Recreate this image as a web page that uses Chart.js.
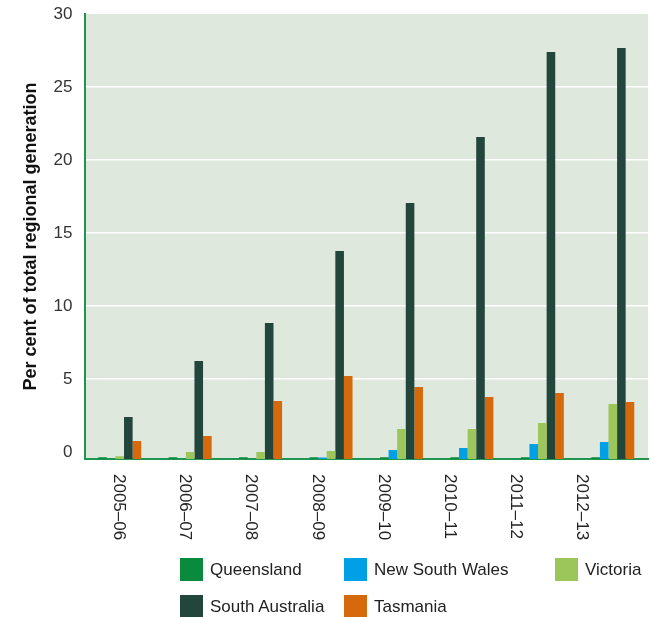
<!DOCTYPE html>
<html>
<head>
<meta charset="utf-8">
<script src="https://cdn.jsdelivr.net/npm/chart.js@4"></script>
<style>
  html, body { margin: 0; padding: 0; background: #fff; }
  #wrap { position: relative; width: 651px; height: 617px; }
  #chart { position: absolute; left: 0; top: 0; }
  .legend { position: absolute; font-family: "Liberation Sans", Arial, sans-serif; font-size: 17px; color: #222; }
  .legend span.sw { position: absolute; width: 23px; height: 23px; }
  .legend span.tx { position: absolute; white-space: nowrap; line-height: 23px; }
</style>
</head>
<body>
<div id="wrap">
  <canvas id="chart" width="651" height="617"></canvas>
  <div id="legend" class="legend"></div>
</div>
<script>
const years = ['2005–06', '2006–07', '2007–08', '2008–09', '2009–10', '2010–11', '2011–12', '2012–13'];

const queensland = [0.12, 0.12, 0.12, 0.12, 0.12, 0.12, 0.12, 0.12];
const newSouthWales = [0, 0, 0, 0.1, 0.62, 0.75, 1.03, 1.16];
const victoria = [0.18, 0.48, 0.48, 0.55, 2.05, 2.05, 2.47, 3.77];
const southAustralia = [2.88, 6.71, 9.32, 14.25, 17.53, 22.05, 27.88, 28.15];
const tasmania = [1.23, 1.58, 3.97, 5.68, 4.93, 4.25, 4.52, 3.9];

const yTicks = [0, 5, 10, 15, 20, 25, 30];

const series = [
  { label: 'Queensland', data: queensland, color: '#0a8a3c' },
  { label: 'New South Wales', data: newSouthWales, color: '#00a0e6' },
  { label: 'Victoria', data: victoria, color: '#9dc65a' },
  { label: 'South Australia', data: southAustralia, color: '#22453c' },
  { label: 'Tasmania', data: tasmania, color: '#d5690c' }
];

const FONT = '"Liberation Sans", Arial, sans-serif';

// plot background
const plotBg = {
  id: 'plotBg',
  beforeDraw(chart) {
    const { ctx, chartArea: a } = chart;
    ctx.save();
    ctx.fillStyle = '#dee8dd';
    ctx.fillRect(a.left, a.top, a.right - a.left, a.bottom - a.top);
    ctx.restore();
  }
};

// x labels rotated clockwise, read top to bottom
const xLabels = {
  id: 'xLabels',
  afterDraw(chart) {
    const { ctx, chartArea: a } = chart;
    const scale = chart.scales.x;
    ctx.save();
    ctx.font = '17px ' + FONT;
    ctx.fillStyle = '#222';
    ctx.textAlign = 'left';
    ctx.textBaseline = 'middle';
    years.forEach((y, i) => {
      const px = a.left + (scale.getPixelForTick(i) - a.left) * 0.94 + 1;
      ctx.save();
      ctx.translate(px, a.bottom + 15);
      ctx.rotate(Math.PI / 2);
      ctx.fillText(y, 0, 0);
      ctx.restore();
    });
    ctx.restore();
  }
};

new Chart(document.getElementById('chart'), {
  type: 'bar',
  data: {
    labels: years,
    datasets: series.map(s => ({
      label: s.label,
      data: s.data,
      backgroundColor: s.color,
      borderWidth: 0,
      barPercentage: 1,
      categoryPercentage: 0.61,
      yAxisID: 'y'
    }))
  },
  options: {
    responsive: false,
    animation: false,
    layout: { padding: { left: 20, top: 14, right: 3, bottom: 158 } },
    plugins: {
      legend: { display: false },
      tooltip: { enabled: false }
    },
    scales: {
      x: {
        ticks: { display: false },
        grid: { display: false, drawTicks: false },
        border: { display: true, color: '#1e9650', width: 2 }
      },
      // bars sit on the axis line; the printed grid in the source sits slightly higher
      y: {
        display: false,
        min: 0,
        max: 30.48
      },
      yGrid: {
        position: 'left',
        min: -0.48,
        max: 30,
        afterBuildTicks: axis => { axis.ticks = yTicks.map(v => ({ value: v })); },
        afterFit: axis => { axis.paddingTop = 0; },
        ticks: { padding: 12, color: '#333', font: { family: FONT, size: 17 } },
        grid: {
          drawTicks: false,
          color: ctx => (ctx.tick.value === 0 || ctx.tick.value === 30) ? 'rgba(0,0,0,0)' : '#ffffff',
          lineWidth: 1.5
        },
        border: { display: true, color: '#1e9650', width: 2 },
        title: {
          display: true,
          text: 'Per cent of total regional generation',
          color: '#111',
          font: { family: FONT, size: 18, weight: 'bold' },
          padding: { top: 0, bottom: 0 }
        }
      }
    }
  },
  plugins: [plotBg, xLabels]
});

// legend laid out like the reference: three columns, two rows
const legendPos = [
  [180, 558], [344, 558], [555, 558],
  [180, 595], [344, 595]
];
const legendEl = document.getElementById('legend');
series.forEach((s, i) => {
  const [x, y] = legendPos[i];
  const sw = document.createElement('span');
  sw.className = 'sw';
  sw.style.left = x + 'px';
  sw.style.top = y + 'px';
  sw.style.background = s.color;
  const tx = document.createElement('span');
  tx.className = 'tx';
  tx.style.left = (x + 30) + 'px';
  tx.style.top = y + 'px';
  tx.textContent = s.label;
  legendEl.appendChild(sw);
  legendEl.appendChild(tx);
});
</script>
</body>
</html>
